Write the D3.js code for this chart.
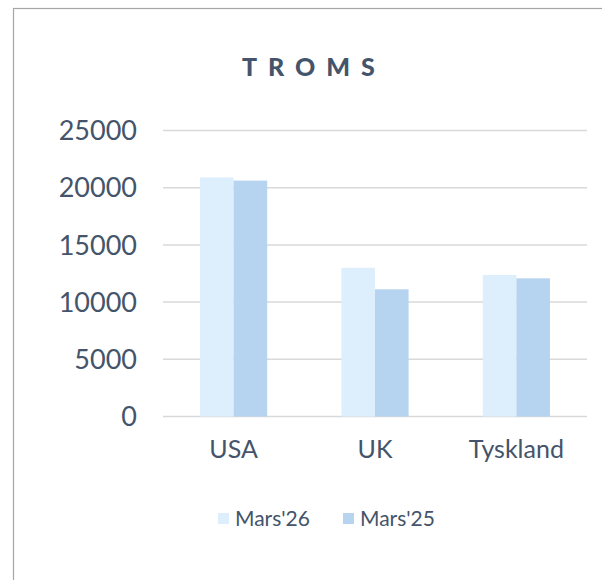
<!DOCTYPE html>
<html>
<head>
<meta charset="utf-8">
<script src="https://cdn.jsdelivr.net/npm/d3@7"></script>
<style>
  body { margin: 0; background: #fff; }
  text { font-family: Lato, "Open Sans", sans-serif; fill: #44546a; }
</style>
</head>
<body>
<script>
// data
const categories = ["USA", "UK", "Tyskland"]
const series = ["Mars'26", "Mars'25"]
const mars26 = [20900, 13000, 12370]
const mars25 = [20620, 11120, 12080]
const yTicks = [0, 5000, 10000, 15000, 20000, 25000]
const colors = ["#ddeefd", "#b6d4ef"]

const w = 602
const h = 580

const svg = d3.select("body")
              .append("svg")
              .attr("width", w)
              .attr("height", h)

// chart frame
svg.append("rect")
   .attr("x", 13.5)
   .attr("y", 8.5)
   .attr("width", 620)
   .attr("height", 600)
   .attr("fill", "#fff")
   .attr("stroke", "#a6a6a6")
   .attr("stroke-width", 1.2)

svg.append("text")
   .text("TROMS")
   .attr("x", 242)
   .attr("y", 76)
   .attr("font-size", 25)
   .attr("font-weight", 900)
   .attr("letter-spacing", 11)

const y = d3.scaleLinear()
            .domain([0, 25000])
            .range([416.5, 130.5])

const x0 = d3.scaleBand()
             .domain(categories)
             .range([163, 587])
             .paddingInner(0.525)
             .paddingOuter(0.262)

const x1 = d3.scaleBand()
             .domain(series)
             .range([0, x0.bandwidth()])

// gridlines
svg.append("g")
   .selectAll("line")
   .data(yTicks)
   .enter()
   .append("line")
   .attr("x1", 163)
   .attr("x2", 587)
   .attr("y1", (d) => y(d))
   .attr("y2", (d) => y(d))
   .attr("stroke", "#d9d9d9")
   .attr("stroke-width", 1.5)

svg.append("g")
   .selectAll("text")
   .data(yTicks)
   .enter()
   .append("text")
   .text((d) => d)
   .attr("x", 137)
   .attr("y", (d) => y(d))
   .attr("dy", "0.36em")
   .attr("text-anchor", "end")
   .attr("font-size", 27)

const rows = categories.map((c, i) => {
    return [{cat: c, s: series[0], v: mars26[i], col: colors[0]},
            {cat: c, s: series[1], v: mars25[i], col: colors[1]}]
})

const group = svg.append("g")
                 .selectAll("g")
                 .data(rows)
                 .enter()
                 .append("g")
                 .attr("transform", (d) => "translate(" + x0(d[0].cat) + ",0)")

group.selectAll("rect")
     .data((d) => d)
     .enter()
     .append("rect")
     .attr("x", (d) => x1(d.s))
     .attr("width", x1.bandwidth())
     .attr("y", (d) => y(d.v))
     .attr("height", (d) => y(0) - y(d.v))
     .attr("fill", (d) => d.col)

svg.append("g")
   .selectAll("text")
   .data(categories)
   .enter()
   .append("text")
   .text((d) => d)
   .attr("x", (d) => x0(d) + x0.bandwidth() / 2)
   .attr("y", 458)
   .attr("text-anchor", "middle")
   .attr("font-size", 25)

// legend
const legendX = [218, 343]
const legend = svg.append("g")
                  .selectAll("g")
                  .data(series)
                  .enter()
                  .append("g")
                  .attr("transform", (d, i) => "translate(" + legendX[i] + ",513)")

legend.append("rect")
      .attr("width", 11)
      .attr("height", 11)
      .attr("fill", (d, i) => colors[i])

legend.append("text")
      .text((d) => d)
      .attr("x", 17)
      .attr("y", 13)
      .attr("font-size", 21)
</script>
</body>
</html>
